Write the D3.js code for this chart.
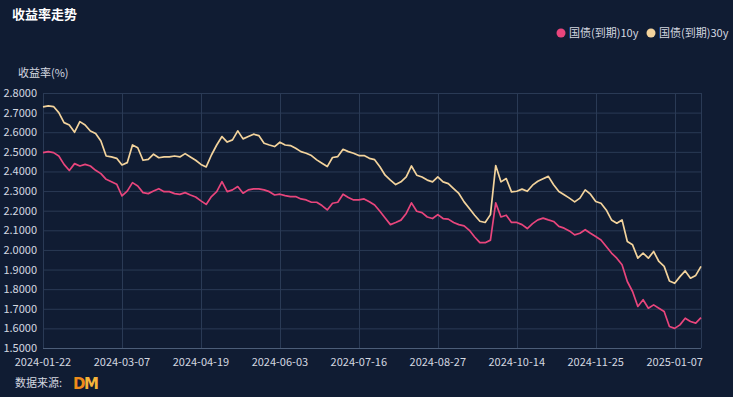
<!DOCTYPE html>
<html><head><meta charset="utf-8">
<script src="https://cdn.jsdelivr.net/npm/d3@7"></script>
<style>
html,body{margin:0;padding:0;background:#101c33;}
svg{display:block;font-family:"Noto Sans CJK SC","Noto Sans",sans-serif;}
</style></head><body>
<svg id="c" width="733" height="397"></svg>
<script>
// ---- data ----
const xTickLabels = ["2024-01-22","2024-03-07","2024-04-19","2024-06-03","2024-07-16","2024-08-27","2024-10-14","2024-11-25","2025-01-07"];
const xTickIndex = [0,30,60,90,120,150,180,210,240];
const totalSteps = 250; // trading-day index of last point
const yTicks = [1.5,1.6,1.7,1.8,1.9,2.0,2.1,2.2,2.3,2.4,2.5,2.6,2.7,2.8];
const seriesNames = ["国债(到期)10y","国债(到期)30y"];
const y10 = [2.496,2.501,2.496,2.479,2.436,2.405,2.440,2.428,2.436,2.428,2.406,2.389,2.360,2.348,2.335,2.275,2.300,2.343,2.326,2.292,2.287,2.300,2.312,2.297,2.297,2.287,2.283,2.292,2.280,2.270,2.250,2.232,2.272,2.297,2.348,2.297,2.306,2.323,2.289,2.306,2.311,2.311,2.306,2.297,2.280,2.284,2.277,2.272,2.272,2.260,2.255,2.243,2.243,2.226,2.204,2.238,2.243,2.284,2.267,2.255,2.255,2.260,2.246,2.229,2.197,2.163,2.129,2.140,2.152,2.186,2.240,2.197,2.190,2.168,2.160,2.180,2.160,2.157,2.140,2.129,2.123,2.100,2.066,2.037,2.037,2.050,2.240,2.168,2.177,2.140,2.140,2.129,2.109,2.134,2.153,2.162,2.153,2.145,2.120,2.111,2.097,2.077,2.085,2.103,2.085,2.068,2.051,2.017,1.984,1.958,1.924,1.839,1.788,1.712,1.746,1.703,1.720,1.703,1.686,1.610,1.600,1.618,1.652,1.635,1.627,1.655];
const y30 = [2.729,2.734,2.731,2.700,2.649,2.637,2.600,2.654,2.637,2.606,2.593,2.555,2.479,2.474,2.467,2.433,2.445,2.535,2.521,2.457,2.462,2.488,2.470,2.474,2.474,2.479,2.474,2.491,2.474,2.457,2.436,2.423,2.484,2.535,2.578,2.550,2.561,2.607,2.566,2.578,2.590,2.583,2.544,2.535,2.527,2.549,2.535,2.532,2.518,2.501,2.493,2.481,2.459,2.442,2.425,2.471,2.476,2.513,2.501,2.493,2.481,2.481,2.467,2.460,2.424,2.381,2.356,2.333,2.347,2.372,2.428,2.381,2.372,2.356,2.347,2.372,2.347,2.338,2.313,2.288,2.245,2.211,2.177,2.146,2.140,2.180,2.430,2.347,2.364,2.296,2.299,2.310,2.299,2.330,2.350,2.363,2.375,2.332,2.298,2.281,2.264,2.245,2.264,2.306,2.284,2.247,2.238,2.204,2.153,2.136,2.153,2.043,2.026,1.958,1.984,1.958,1.992,1.941,1.916,1.842,1.830,1.864,1.893,1.856,1.870,1.916];
const colors = ["#e8457c","#f3d39c"];

// ---- layout ----
const svg = d3.select("#c");
const L = 43, R = 701, T = 93, B = 348;
const x = d3.scaleLinear().domain([0,totalSteps]).range([L,R]);
const y = d3.scaleLinear().domain([1.5,2.8]).range([B,T]);

svg.append("rect").attr("width",733).attr("height",397).attr("fill","#101c33");

// grid
const g = svg.append("g");
g.selectAll(".hg").data(yTicks).join("line")
  .attr("x1",L).attr("x2",R).attr("y1",d=>y(d)+0.5).attr("y2",d=>y(d)+0.5)
  .attr("stroke","#2a3a55").attr("stroke-width",1);
g.selectAll(".vg").data(xTickIndex.concat([totalSteps])).join("line")
  .attr("x1",d=>Math.round(x(d))+0.5).attr("x2",d=>Math.round(x(d))+0.5).attr("y1",T).attr("y2",B)
  .attr("stroke","#2a3a55").attr("stroke-width",1);
// bottom axis line
g.append("line").attr("x1",L).attr("x2",R).attr("y1",B+0.5).attr("y2",B+0.5).attr("stroke","#4c5d78").attr("stroke-width",1.2);

// y axis labels
svg.selectAll(".yl").data(yTicks).join("text")
  .attr("x",37).attr("y",d=>y(d)+4).attr("text-anchor","end")
  .attr("fill","#d4d8e0").attr("font-size",11).text(d=>d.toFixed(4));
// x axis labels
svg.selectAll(".xl").data(xTickIndex).join("text")
  .attr("x",d=>x(d)).attr("y",366).attr("text-anchor","middle")
  .attr("fill","#d4d8e0").attr("font-size",11).text((d,i)=>xTickLabels[i]);

// lines
const line = d3.line().x((d,i)=>x(i*totalSteps/(y10.length-1))).y(d=>y(d)).curve(d3.curveLinear);
[y10,y30].forEach((s,k)=>{
  svg.append("path").attr("d",line(s)).attr("fill","none")
    .attr("stroke",colors[k]).attr("stroke-width",1.7).attr("stroke-linejoin","round");
});

// title
svg.append("text").attr("x",12).attr("y",19).attr("fill","#ffffff").attr("font-size",13).attr("font-weight","bold").text("收益率走势");
// axis name
svg.append("text").attr("x",18).attr("y",77).attr("fill","#d4d8e0").attr("font-size",11).text("收益率(%)");

// legend
const leg = [{cx:561,tx:569},{cx:651,tx:659}];
leg.forEach((p,k)=>{
  svg.append("circle").attr("cx",p.cx).attr("cy",33).attr("r",4.5).attr("fill",colors[k]);
  svg.append("text").attr("x",p.tx).attr("y",37).attr("fill","#d4d8e0").attr("font-size",11).text(seriesNames[k]);
});

// source
svg.append("text").attr("x",15).attr("y",387).attr("fill","#d4d8e0").attr("font-size",11).text("数据来源:");
svg.append("text").attr("x",73).attr("y",389).attr("fill","#f08c1a").attr("font-size",15).attr("font-weight","900").attr("font-family","DejaVu Sans").text("D");
svg.append("text").attr("x",84).attr("y",389).attr("fill","#f6b53a").attr("font-size",15).attr("font-weight","900").attr("font-family","DejaVu Sans").text("M");
</script>
</body></html>
